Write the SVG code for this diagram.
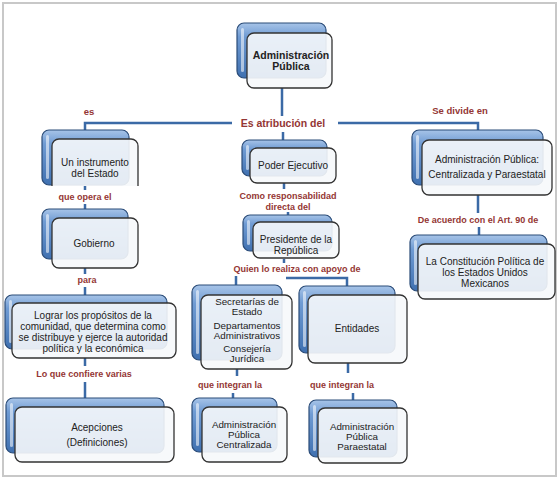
<svg xmlns="http://www.w3.org/2000/svg" width="560" height="480" viewBox="0 0 560 480">
<defs>
<linearGradient id="blue" x1="0" y1="0" x2="0" y2="1">
<stop offset="0" stop-color="#a7c4e8"/>
<stop offset="0.25" stop-color="#6f9bd3"/>
<stop offset="1" stop-color="#3f70b0"/>
</linearGradient>
<clipPath id="clipInst"><rect x="0" y="0" width="560" height="186"/></clipPath>
<style>
.back{fill:url(#blue);stroke:#2b4c78;stroke-width:1.2}
.hl{fill:#ffffff;opacity:0.55}
.front{fill:#f6f8fb;fill-opacity:0.9;stroke:#333;stroke-width:1.3}
.t{font-family:"Liberation Sans",Arial,sans-serif;font-size:10px;fill:#222;text-anchor:middle}
.t9{font-family:"Liberation Sans",Arial,sans-serif;font-size:9.8px;fill:#222;text-anchor:middle}
.tb{font-family:"Liberation Sans",Arial,sans-serif;font-size:10.5px;font-weight:bold;fill:#222;text-anchor:middle}
.lab{font-family:"Liberation Sans",Arial,sans-serif;font-size:9px;font-weight:bold;fill:#943634;text-anchor:middle}
.labL{font-family:"Liberation Sans",Arial,sans-serif;font-size:10.5px;font-weight:bold;fill:#943634;text-anchor:middle}
.con{fill:none;stroke:#3b6aa6;stroke-width:2.5}
</style>
</defs>
<rect x="3" y="3" width="553" height="473" fill="#fff" stroke="#c8c8c8" stroke-width="2"/>

<g id="connectors">
<path class="con" d="M282,88 V116"/>
<path class="con" d="M232,123 H85 V130"/>
<path class="con" d="M338,123 H478 V130"/>
<path class="con" d="M283,132 V140"/>
<path class="con" d="M85,186 V190 M85,204 V210"/>
<path class="con" d="M85,268 V274 M85,287 V295"/>
<path class="con" d="M85,358 V366 M85,382 V398"/>
<path class="con" d="M284,183 V189 M288,212 V216"/>
<path class="con" d="M284,259 V263"/>
<path class="con" d="M236,276 V285"/>
<path class="con" d="M286,278 H347 V286"/>
<path class="con" d="M237,369 V376 M233,393 V398"/>
<path class="con" d="M348,363 V373 M353,393 V400"/>
<path class="con" d="M478,195 V213 M479,227 V235"/>
</g>

<g id="labels">
<text class="labL" x="283" y="127">Es atribución del</text>
<text class="lab" x="89" y="115" style="font-size:9.5px">es</text>
<text class="lab" x="460" y="114" style="font-size:9.5px">Se divide en</text>
<text class="lab" x="85" y="200">que opera el</text>
<text class="lab" x="87" y="283">para</text>
<text class="lab" x="84" y="377">Lo que confiere varias</text>
<text class="lab" x="288" y="199">Como responsabilidad</text>
<text class="lab" x="288" y="210">directa del</text>
<text class="lab" x="297" y="272">Quien lo realiza con apoyo de</text>
<text class="lab" x="230" y="388">que integran la</text>
<text class="lab" x="342" y="388">que integran la</text>
<text class="lab" x="478" y="223">De acuerdo con el Art. 90 de</text>
</g>

<g id="n-admin">
<rect class="back" x="237" y="23" width="89" height="55" rx="7"/>
<rect class="hl" x="241" y="28" width="3" height="44" rx="1.5"/>
<rect class="front" x="247" y="33" width="85" height="55" rx="7"/>
<text class="tb" x="291" y="59">Administración</text>
<text class="tb" x="291" y="70">Pública</text>
</g>

<g id="n-instrumento">
<rect class="back" x="42" y="130" width="87" height="55" rx="7"/>
<rect class="hl" x="46" y="135" width="3" height="44" rx="1.5"/>
<rect class="front" x="52" y="139" width="86" height="55" rx="7" clip-path="url(#clipInst)"/>
<text class="t" x="95" y="166">Un instrumento</text>
<text class="t" x="95" y="177">del Estado</text>
</g>

<g id="n-gobierno">
<rect class="back" x="42" y="209" width="86" height="50" rx="7"/>
<rect class="hl" x="46" y="214" width="3" height="39" rx="1.5"/>
<rect class="front" x="52" y="218" width="86" height="50" rx="7"/>
<text class="t" x="94" y="247">Gobierno</text>
</g>

<g id="n-lograr">
<rect class="back" x="5" y="295" width="162" height="54" rx="7"/>
<rect class="hl" x="9" y="300" width="3" height="43" rx="1.5"/>
<rect class="front" x="12" y="303" width="164" height="55" rx="7"/>
<text class="t" x="93" y="319">Lograr los propósitos de la</text>
<text class="t" x="93" y="330">comunidad, que determina como</text>
<text class="t" x="93" y="341">se distribuye y ejerce la autoridad</text>
<text class="t" x="93" y="352">política y la económica</text>
</g>

<g id="n-acepciones">
<rect class="back" x="6" y="398" width="158" height="55" rx="7"/>
<rect class="hl" x="10" y="403" width="3" height="44" rx="1.5"/>
<rect class="front" x="15" y="407" width="159" height="55" rx="7"/>
<text class="t" x="97" y="431">Acepciones</text>
<text class="t" x="97" y="446">(Definiciones)</text>
</g>

<g id="n-poder">
<rect class="back" x="242" y="140" width="85" height="36" rx="7"/>
<rect class="hl" x="246" y="145" width="3" height="25" rx="1.5"/>
<rect class="front" x="250" y="148" width="86" height="35" rx="7"/>
<text class="t" x="293" y="169">Poder Ejecutivo</text>
</g>

<g id="n-presidente">
<rect class="back" x="243" y="215" width="89" height="36" rx="7"/>
<rect class="hl" x="247" y="220" width="3" height="25" rx="1.5"/>
<rect class="front" x="253" y="222" width="86" height="36" rx="7"/>
<text class="t" x="296" y="243">Presidente de la</text>
<text class="t" x="296" y="254">República</text>
</g>

<g id="n-secretarias">
<rect class="back" x="192" y="285" width="90" height="75" rx="7"/>
<rect class="hl" x="196" y="290" width="3" height="64" rx="1.5"/>
<rect class="front" x="201" y="295" width="91" height="74" rx="7"/>
<text class="t9" x="247" y="305">Secretarías de</text>
<text class="t9" x="247" y="315">Estado</text>
<text class="t9" x="247" y="329">Departamentos</text>
<text class="t9" x="247" y="339">Administrativos</text>
<text class="t9" x="247" y="352">Consejería</text>
<text class="t9" x="247" y="362">Jurídica</text>
</g>

<g id="n-entidades">
<rect class="back" x="299" y="286" width="96" height="67" rx="7"/>
<rect class="hl" x="303" y="291" width="3" height="56" rx="1.5"/>
<rect class="front" x="308" y="295" width="99" height="68" rx="7"/>
<text class="t" x="357" y="332">Entidades</text>
</g>

<g id="n-centralizada">
<rect class="back" x="192" y="398" width="85" height="54" rx="7"/>
<rect class="hl" x="196" y="403" width="3" height="43" rx="1.5"/>
<rect class="front" x="202" y="407" width="85" height="55" rx="7"/>
<text class="t9" x="244" y="428">Administración</text>
<text class="t9" x="244" y="438">Pública</text>
<text class="t9" x="244" y="448">Centralizada</text>
</g>

<g id="n-paraestatal">
<rect class="back" x="309" y="400" width="88" height="57" rx="7"/>
<rect class="hl" x="313" y="405" width="3" height="46" rx="1.5"/>
<rect class="front" x="318" y="408" width="89" height="55" rx="7"/>
<text class="t9" x="362" y="430">Administración</text>
<text class="t9" x="362" y="440">Pública</text>
<text class="t9" x="362" y="450">Paraestatal</text>
</g>

<g id="n-divide">
<rect class="back" x="412" y="130" width="131" height="55" rx="7"/>
<rect class="hl" x="416" y="135" width="3" height="44" rx="1.5"/>
<rect class="front" x="422" y="140" width="130" height="55" rx="7"/>
<text class="t" x="487" y="163">Administración Pública:</text>
<text class="t" x="487" y="178">Centralizada y Paraestatal</text>
</g>

<g id="n-constitucion">
<rect class="back" x="410" y="235" width="137" height="56" rx="7"/>
<rect class="hl" x="414" y="240" width="3" height="45" rx="1.5"/>
<rect class="front" x="418" y="244" width="137" height="55" rx="7"/>
<text class="t" x="485" y="265">La Constitución Política de</text>
<text class="t" x="485" y="276">los Estados Unidos</text>
<text class="t" x="485" y="287">Mexicanos</text>
</g>
</svg>
